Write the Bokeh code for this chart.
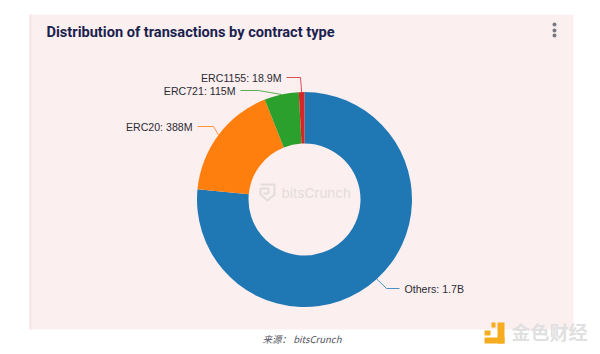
from math import radians, sin, cos
from bokeh.plotting import figure
from bokeh.models import Range1d
from bokeh.core.properties import value
from bokeh.embed import file_html
from bokeh.resources import INLINE

categories = ["Others", "ERC20", "ERC721", "ERC1155"]
values_m = [1700, 388, 115, 18.9]
labels = ["Others: 1.7B", "ERC20: 388M", "ERC721: 115M", "ERC1155: 18.9M"]
colors = ["#1f77b4", "#ff7f0e", "#2ca02c", "#d62728"]
title = "Distribution of transactions by contract type"
caption = "来源：  bitsCrunch"

W, H = 600, 354
Y = lambda py: H - py
CX, CY, RO, RI = 304, 199, 107.5, 56

p = figure(width=W, height=H, output_backend="svg", toolbar_location=None,
           x_range=Range1d(0, W), y_range=Range1d(0, H), min_border=0,
           background_fill_color="#ffffff", border_fill_color="#ffffff", outline_line_color=None)
p.axis.visible = False
p.grid.visible = False

# panel
p.quad(left=[29], right=[573], top=[Y(14)], bottom=[Y(329)], fill_color="#fcefef", line_color=None)
p.quad(left=[29], right=[31], top=[Y(14)], bottom=[Y(329)], fill_color="#f8e3e4", line_color=None)

# donut, clockwise from twelve o'clock
total = sum(values_m)
start = 0.0
mids = []
for v, c in zip(values_m, colors):
    end = start + v / total * 360
    mids.append((start + end) / 2)
    p.annular_wedge(x=[CX], y=[Y(CY)], inner_radius=RI, outer_radius=RO,
                    start_angle=[radians(90 - end)], end_angle=[radians(90 - start)],
                    fill_color=c, line_color=None)
    start = end

# watermark
shield_x = [260, 274, 274, 267, 260, 260, 268, 268, 263]
shield_py = [184, 184, 194, 200, 194, 188, 188, 193, 193]
p.line(shield_x, [Y(v) for v in shield_py], line_color="#e3dcdc", line_width=2)
p.text(x=[281], y=[Y(192)], text=["bitsCrunch"], text_font=value("Inter"), text_font_size="13.5px",
       text_color="#e3dcdc", text_baseline="middle")

# leader lines and labels
bend = [(386, 288, 399, 288), (213, 126, 197, 126), (258, 90, 240, 90), (300, 77, 286, 77)]
label_x = [404, 192, 235, 281]
label_align = ["left", "right", "right", "right"]
for i, (m, c) in enumerate(zip(mids, colors)):
    ax = CX + RO * sin(radians(m))
    ay = CY - RO * cos(radians(m))
    bx, by, ex, ey = bend[i]
    p.line([ax, bx, ex], [Y(ay), Y(by), Y(ey)], line_color=c, line_width=1, line_alpha=0.8)
    p.text(x=[label_x[i]], y=[Y(ey)], text=[labels[i]], text_font=value("Liberation Sans"),
           text_font_size="10.6px", text_color="#2b2b33", text_align=label_align[i], text_baseline="middle")

# title, menu dots, caption
p.text(x=[46], y=[Y(31)], text=[title], text_font=value("Roboto"), text_font_style="bold",
       text_font_size="14.6px", text_color="#1a1f4e", text_baseline="middle")
p.scatter(x=[554, 554, 554], y=[Y(24), Y(30), Y(35)], size=4, fill_color="#777b80", line_color=None)
p.text(x=[262], y=[Y(338)], text=[caption], text_font=value("Noto Sans CJK SC"), text_font_style="italic",
       text_font_size="9.5px", text_color="#55555f", text_baseline="middle")

# bottom-right logo
p.quad(left=[497, 484, 484, 491], right=[504, 504, 490, 495],
       top=[Y(322), Y(337), Y(330), Y(322)], bottom=[Y(343), Y(343), Y(335), Y(327)],
       fill_color="#f5ac1e", line_color=None)
p.text(x=[511], y=[Y(331)], text=["金色财经"], text_font=value("Noto Sans CJK SC"), text_font_style="bold",
       text_font_size="19px", text_color="#e0e0e0", text_baseline="middle")

open("out.html", "w").write(file_html(p, INLINE))
